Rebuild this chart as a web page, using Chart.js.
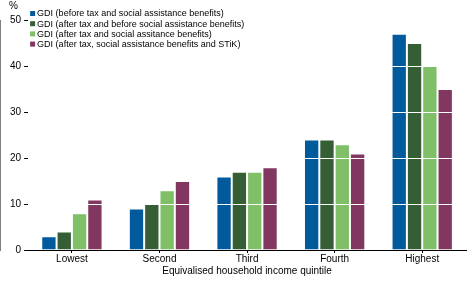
<!DOCTYPE html>
<html>
<head>
<meta charset="utf-8">
<script src="https://cdn.jsdelivr.net/npm/chart.js@4"></script>
<style>
  html, body { margin: 0; padding: 0; background: #fff; }
  #wrap { width: 472px; height: 283px; }
</style>
</head>
<body>
<div id="wrap"><canvas id="chart"></canvas></div>
<script>
// Share of income, by equivalised household income quintile
const quintiles = ['Lowest', 'Second', 'Third', 'Fourth', 'Highest'];
const seriesNames = [
    'GDI (before tax and social assistance benefits)',
    'GDI (after tax and before social assistance benefits)',
    'GDI (after tax and social assitance benefits)',
    'GDI (after tax, social assistance benefits and STiK)'
];
const beforeTax = [3, 9, 16, 24, 47];
const afterTaxBefore = [4, 10, 17, 24, 45];
const afterTaxAndBenefits = [8, 13, 17, 23, 40];
const afterTaxBenefitsStik = [11, 15, 18, 21, 35];
const yTicks = [0, 10, 20, 30, 40, 50];

const colours = ['#005a9c', '#355e35', '#7fbf67', '#81375f'];
const FONT = "'Liberation Sans Narrow', 'Liberation Sans', Arial, sans-serif";

// "%" above the y axis plus the legend block in the top left corner
const extras = {
    id: 'extras',
    afterDraw(chart) {
        const ctx = chart.ctx;
        const left = chart.chartArea.left;
        ctx.save();
        ctx.font = '10px ' + FONT;
        ctx.fillStyle = '#000';
        ctx.textAlign = 'left';
        ctx.textBaseline = 'top';
        ctx.fillText('%', left - 19, 1);

        ctx.font = '9px ' + FONT;
        ctx.textBaseline = 'middle';
        chart.data.datasets.forEach((ds, i) => {
            const y = 14 + i * 10.2;
            ctx.fillStyle = ds.backgroundColor;
            ctx.fillRect(left + 2, y - 3, 5, 5);
            ctx.fillStyle = '#000';
            ctx.fillText(ds.label, left + 9, y);
        });
        ctx.restore();
    }
};

const values = [beforeTax, afterTaxBefore, afterTaxAndBenefits, afterTaxBenefitsStik];

new Chart(document.getElementById('chart'), {
    type: 'bar',
    data: {
        labels: quintiles,
        datasets: values.map((v, i) => ({
            label: seriesNames[i],
            data: v,
            backgroundColor: colours[i],
            borderColor: 'rgba(255,255,255,0.5)',
            borderWidth: 1,
            barPercentage: 1,
            categoryPercentage: 0.7
        }))
    },
    options: {
        responsive: true,
        maintainAspectRatio: false,
        animation: false,
        layout: { padding: { top: 20, right: 6, left: 7, bottom: 6 } },
        plugins: {
            legend: { display: false },
            tooltip: { enabled: false }
        },
        scales: {
            x: {
                grid: {
                    offset: false,
                    drawOnChartArea: false,
                    drawTicks: true,
                    tickLength: 3,
                    color: '#000'
                },
                border: { color: '#000', width: 1 },
                ticks: { color: '#000', font: { family: FONT, size: 10 }, padding: 0 },
                title: {
                    display: true,
                    text: 'Equivalised household income quintile',
                    color: '#000',
                    font: { family: FONT, size: 10 },
                    padding: { top: 0, bottom: 0 }
                }
            },
            y: {
                min: 0,
                max: 50,
                afterBuildTicks(scale) {
                    scale.ticks = yTicks.map(v => ({ value: v }));
                },
                grid: {
                    z: 1,
                    lineWidth: 1,
                    color: ctx => (ctx.tick && ctx.tick.value > 0 && ctx.tick.value < 50) ? '#ffffff' : 'rgba(0,0,0,0)',
                    tickColor: '#000',
                    tickLength: 4
                },
                border: { color: '#000', width: 1 },
                ticks: { color: '#000', font: { family: FONT, size: 10 }, padding: 3 }
            }
        }
    },
    plugins: [extras]
});
</script>
</body>
</html>
